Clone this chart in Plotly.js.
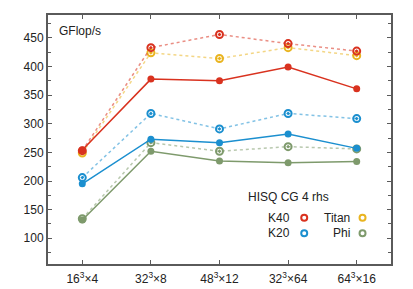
<!DOCTYPE html>
<html>
<head>
<meta charset="utf-8">
<script src="https://cdn.plot.ly/plotly-3.0.1.min.js"></script>
<style>html,body{margin:0;padding:0;background:#fff;}#chart{width:413px;height:289px;}</style>
</head>
<body>
<div id="chart"></div>
<script>
const categories = ["16<sup>3</sup>×4", "32<sup>3</sup>×8", "48<sup>3</sup>×12", "32<sup>3</sup>×64", "64<sup>3</sup>×16"];
const k40Solid = [254, 378, 375, 399, 361];
const k40Dotted = [253, 433, 456, 440, 427];
const titanDotted = [249, 424, 414, 433, 419];
const k20Solid = [195, 273, 267, 282, 257];
const k20Dotted = [206, 318, 291, 318, 309];
const phiSolid = [132, 252, 235, 232, 234];
const phiDotted = [134, 267, 252, 260, 256];
const legendNames = ["K40", "Titan", "K20", "Phi"];
const chartTitle = "HISQ CG 4 rhs";
const yLabel = "GFlop/s";

const RED = "#d9321f", BLUE = "#1b8fcf", YEL = "#e9b420", GRN = "#7e9a6c";
const xs = categories.map((c, i) => i);

function solid(y, color) {
  return {x: xs, y: y, type: "scatter", mode: "lines+markers",
    line: {color: color, width: 1.5},
    marker: {color: color, size: 7, symbol: "circle"}, showlegend: false, hoverinfo: "skip"};
}
function dottedLine(y, color) {
  return {x: xs, y: y, type: "scatter", mode: "lines",
    line: {color: color, width: 1.5, dash: "dot"}, opacity: 0.55,
    showlegend: false, hoverinfo: "skip"};
}
function openMarkers(y, color) {
  return {x: xs, y: y, type: "scatter", mode: "markers",
    marker: {color: color, size: 7, symbol: "circle-open-dot", line: {width: 2, color: color}},
    showlegend: false, hoverinfo: "skip"};
}

const data = [
  dottedLine(phiDotted, GRN), solid(phiSolid, GRN), openMarkers(phiDotted, GRN),
  dottedLine(k20Dotted, BLUE), solid(k20Solid, BLUE), openMarkers(k20Dotted, BLUE),
  dottedLine(titanDotted, YEL), openMarkers(titanDotted, YEL),
  dottedLine(k40Dotted, RED), solid(k40Solid, RED), openMarkers(k40Dotted, RED)
];

const AX = "#5a5a5a";
const fnt = {family: "Liberation Sans, Arial, sans-serif", size: 12, color: "#222"};

function legCircle(px, py, color) {
  return {type: "circle", xref: "paper", yref: "paper", xsizemode: "pixel", ysizemode: "pixel",
    xanchor: px, yanchor: py, x0: -3, x1: 3, y0: -3, y1: 3,
    line: {color: color, width: 2}, fillcolor: "rgba(0,0,0,0)"};
}

const layout = {
  width: 413, height: 289,
  margin: {l: 48, r: 22, t: 15, b: 25},
  paper_bgcolor: "#fff", plot_bgcolor: "#fff",
  font: fnt,
  xaxis: {range: [-0.5, 4.5], tickvals: xs, ticktext: categories,
    showgrid: false, zeroline: false, showline: true, linecolor: AX, linewidth: 2,
    mirror: "allticks", ticks: "inside", ticklen: 4, tickcolor: AX, tickwidth: 1,
    ticklabelstandoff: 3, tickfont: fnt},
  yaxis: {range: [55, 490], tickvals: [100, 150, 200, 250, 300, 350, 400, 450],
    showgrid: false, zeroline: false, showline: true, linecolor: AX, linewidth: 2,
    mirror: "allticks", ticks: "inside", ticklen: 4, tickcolor: AX, tickwidth: 1,
    tickfont: fnt,
    minor: {tickvals: [75, 125, 175, 225, 275, 325, 375, 425, 475], ticks: "inside", ticklen: 3, tickcolor: AX}},
  annotations: [
    {text: yLabel, xref: "paper", yref: "paper", x: 0.025, y: 0.97, xanchor: "left", yanchor: "top", showarrow: false, font: fnt},
    {text: chartTitle, xref: "paper", yref: "paper", x: 0.7, y: 0.27, xanchor: "center", yanchor: "middle", showarrow: false, font: fnt},
    {text: legendNames[0], xref: "paper", yref: "paper", x: 0.712, y: 0.186, xanchor: "right", yanchor: "middle", showarrow: false, font: fnt},
    {text: legendNames[1], xref: "paper", yref: "paper", x: 0.887, y: 0.186, xanchor: "right", yanchor: "middle", showarrow: false, font: fnt},
    {text: legendNames[2], xref: "paper", yref: "paper", x: 0.712, y: 0.123, xanchor: "right", yanchor: "middle", showarrow: false, font: fnt},
    {text: legendNames[3], xref: "paper", yref: "paper", x: 0.887, y: 0.123, xanchor: "right", yanchor: "middle", showarrow: false, font: fnt}
  ],
  shapes: [
    legCircle(0.747, 0.186, RED), legCircle(0.917, 0.186, YEL),
    legCircle(0.747, 0.123, BLUE), legCircle(0.917, 0.123, GRN)
  ]
};

Plotly.newPlot("chart", data, layout, {staticPlot: true, displayModeBar: false});
</script>
</body>
</html>
